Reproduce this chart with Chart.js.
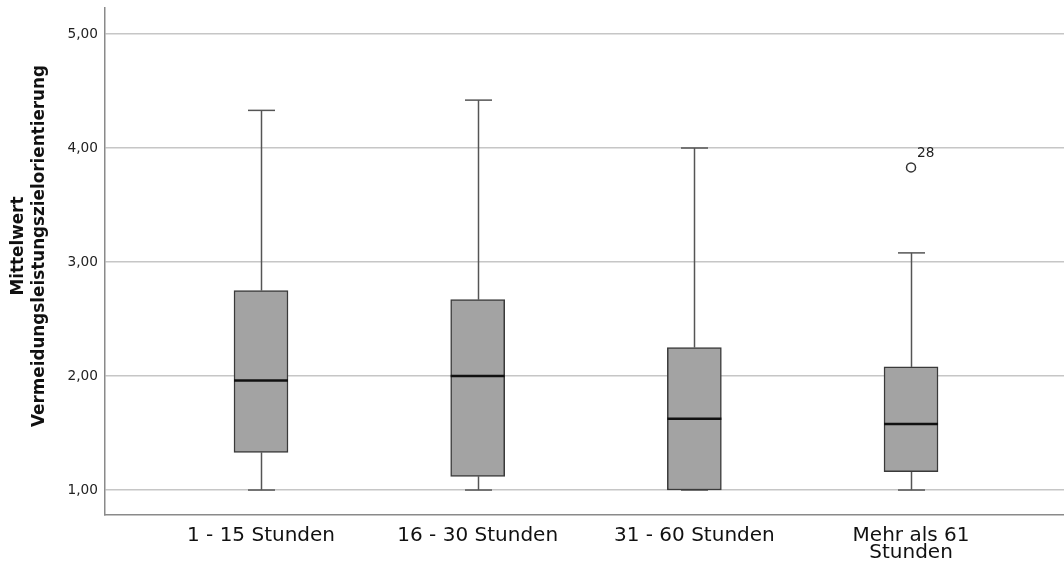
<!DOCTYPE html>
<html>
<head>
<meta charset="utf-8">
<script src="https://cdn.jsdelivr.net/npm/chart.js@4/dist/chart.umd.min.js"></script>
<style>
html,body{margin:0;padding:0;background:#fff;}
#wrap{width:1064px;height:569px;position:relative;}
</style>
</head>
<body>
<div id="wrap"><canvas id="c"></canvas></div>
<script>
const categories = ["1 - 15 Stunden", "16 - 30 Stunden", "31 - 60 Stunden", ["Mehr als 61", "Stunden"]];
const whiskerLow = [1.00, 1.00, 1.00, 1.00];
const q1Values = [1.33, 1.12, 1.00, 1.16];
const medianValues = [1.96, 2.00, 1.625, 1.58];
const q3Values = [2.75, 2.67, 2.25, 2.08];
const whiskerHigh = [4.33, 4.42, 4.00, 3.08];
const outliers = [{cat: 3, value: 3.83, label: "28"}];
const yTicks = [1, 2, 3, 4, 5];
const yAxisTitle = ["Mittelwert", "Vermeidungsleistungszielorientierung"];

const FONT = "'DejaVu Sans', sans-serif";

const boxData = categories.map((c, i) => ({x: i, y: [q1Values[i], q3Values[i]]}));
const outlierData = outliers.map(o => ({x: o.cat, y: o.value, label: o.label}));

const boxPlugin = {
  id: 'boxWhiskers',
  beforeDatasetsDraw(chart) {
    const {ctx, scales: {x, y}} = chart;
    ctx.save();
    ctx.strokeStyle = '#555555';
    ctx.lineWidth = 1.5;
    categories.forEach((c, i) => {
      const cx = Math.round(x.getPixelForValue(i)) + 0.5;
      const capHalf = 13.5;
      ctx.beginPath();
      ctx.moveTo(cx, y.getPixelForValue(q3Values[i]));
      ctx.lineTo(cx, y.getPixelForValue(whiskerHigh[i]));
      ctx.stroke();
      ctx.beginPath();
      ctx.moveTo(cx, y.getPixelForValue(q1Values[i]));
      ctx.lineTo(cx, y.getPixelForValue(whiskerLow[i]));
      ctx.stroke();
      [whiskerHigh[i], whiskerLow[i]].forEach(v => {
        const py = y.getPixelForValue(v);
        ctx.beginPath();
        ctx.moveTo(cx - capHalf, py);
        ctx.lineTo(cx + capHalf, py);
        ctx.stroke();
      });
    });
    ctx.restore();
  },
  afterDatasetsDraw(chart) {
    const {ctx, scales: {x, y}} = chart;
    const meta = chart.getDatasetMeta(0);
    ctx.save();
    ctx.strokeStyle = '#111111';
    ctx.lineWidth = 2.5;
    meta.data.forEach((bar, i) => {
      const half = bar.width / 2;
      const py = y.getPixelForValue(medianValues[i]);
      ctx.beginPath();
      ctx.moveTo(bar.x - half, py);
      ctx.lineTo(bar.x + half, py);
      ctx.stroke();
    });
    const om = chart.getDatasetMeta(1);
    ctx.fillStyle = '#222222';
    ctx.font = "13.7px " + FONT;
    ctx.textAlign = 'left';
    ctx.textBaseline = 'middle';
    om.data.forEach((pt, k) => {
      ctx.fillText(outlierData[k].label, pt.x + 6, pt.y - 13.5);
    });
    ctx.restore();
  },
  afterDraw(chart) {
    const {ctx} = chart;
    ctx.save();
    ctx.translate(0, 246);
    ctx.rotate(-Math.PI / 2);
    ctx.fillStyle = '#111111';
    ctx.font = "bold 16.8px " + FONT;
    ctx.textAlign = 'center';
    ctx.textBaseline = 'middle';
    ctx.fillText(yAxisTitle[0], 0, 19);
    ctx.fillText(yAxisTitle[1], 0, 40);
    ctx.restore();
  }
};

new Chart(document.getElementById('c'), {
  type: 'bar',
  data: {
    datasets: [
      {
        type: 'bar',
        data: boxData,
        backgroundColor: '#a3a3a3',
        borderColor: '#3a3a3a',
        borderWidth: 1.5,
        borderSkipped: false,
        barThickness: 54,
        order: 2
      },
      {
        type: 'scatter',
        data: outlierData,
        pointRadius: 4.5,
        pointBackgroundColor: '#ffffff',
        pointBorderColor: '#333333',
        pointBorderWidth: 1.5,
        order: 1
      }
    ]
  },
  options: {
    responsive: true,
    maintainAspectRatio: false,
    animation: false,
    layout: {padding: 0, autoPadding: false},
    plugins: {legend: {display: false}, tooltip: {enabled: false}},
    scales: {
      x: {
        type: 'linear',
        min: -0.72,
        max: 3.706,
        offset: false,
        afterBuildTicks(scale) { scale.ticks = categories.map((c, i) => ({value: i})); },
        afterFit(scale) { scale.height = 54; scale.paddingLeft = 0; scale.paddingRight = 0; },
        grid: {display: false, drawTicks: false},
        border: {display: true, color: '#8a8a8a', width: 1.5},
        ticks: {
          autoSkip: false,
          maxRotation: 0,
          padding: 12,
          color: '#111111',
          font: {family: FONT, size: 20, lineHeight: 0.875},
          callback(v) { return categories[v]; }
        }
      },
      y: {
        type: 'linear',
        min: 0.781,
        max: 5.228,
        afterBuildTicks(scale) { scale.ticks = yTicks.map(v => ({value: v})); },
        afterFit(scale) { scale.width = 105; scale.paddingTop = 8; scale.paddingBottom = 0; },
        grid: {color: '#c6c6c6', lineWidth: 1.5, drawTicks: false},
        border: {display: true, color: '#8a8a8a', width: 1.5},
        ticks: {
          padding: 7,
          color: '#222222',
          font: {family: FONT, size: 13.7},
          callback(v) { return v.toFixed(2).replace('.', ','); }
        },
        title: {display: false}
      }
    }
  },
  plugins: [boxPlugin]
});
</script>
</body>
</html>
